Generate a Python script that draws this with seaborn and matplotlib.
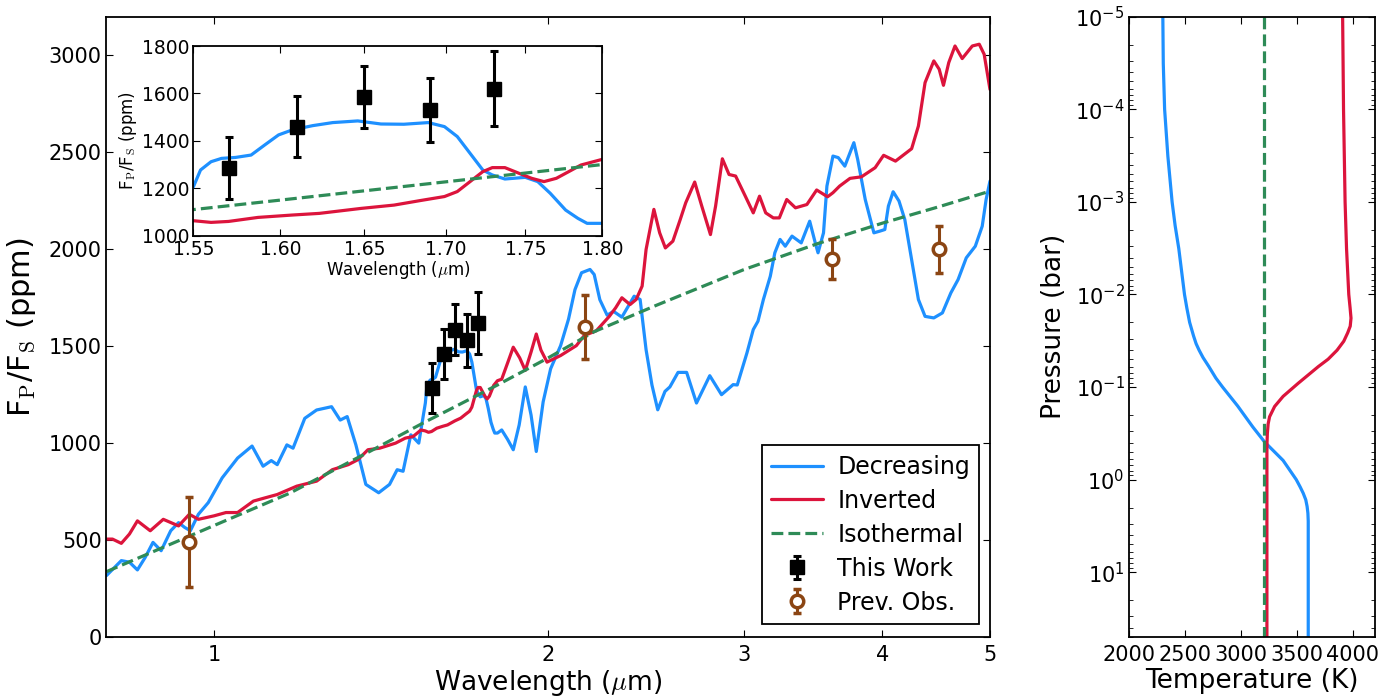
import numpy as np
import pandas as pd
import matplotlib
matplotlib.use("Agg")
import matplotlib.pyplot as plt
import seaborn as sns
from matplotlib.ticker import FixedLocator, NullLocator, FormatStrFormatter, MultipleLocator

# ---------------- data ----------------
dec_wl = [0.800, 0.825, 0.839, 0.853, 0.867, 0.881, 0.896, 0.914, 0.929, 0.941, 0.952, 0.968, 0.988,
          1.017, 1.050, 1.082, 1.107, 1.126, 1.140, 1.163, 1.178, 1.207, 1.237, 1.276, 1.299, 1.318,
          1.342, 1.370, 1.407, 1.439, 1.462, 1.480, 1.504, 1.529,
          1.550, 1.554, 1.560, 1.566, 1.574, 1.583, 1.591, 1.599, 1.607, 1.619, 1.631, 1.646, 1.660,
          1.674, 1.689, 1.699, 1.707, 1.715, 1.723, 1.729, 1.737, 1.750, 1.758, 1.766, 1.776, 1.784,
          1.790, 1.800, 1.816, 1.838, 1.860, 1.883, 1.907, 1.930, 1.951, 1.979, 2.010, 2.052, 2.086,
          2.114, 2.143, 2.181, 2.200, 2.226, 2.260, 2.290, 2.330, 2.390, 2.420, 2.450, 2.480, 2.510,
          2.548, 2.574, 2.618, 2.665, 2.720, 2.796, 2.865, 2.935, 2.960, 3.020, 3.060, 3.090, 3.125,
          3.170, 3.200, 3.235, 3.270, 3.316, 3.380, 3.440, 3.480, 3.500, 3.540, 3.565, 3.610, 3.650,
          3.700, 3.770, 3.800, 3.860, 3.930, 3.980, 4.020, 4.050, 4.090, 4.140, 4.190, 4.250, 4.310,
          4.370, 4.450, 4.530, 4.610, 4.680, 4.760, 4.850, 4.920, 4.960, 5.000]
dec_fp = [317, 394, 386, 346, 411, 488, 445, 548, 590, 565, 548, 633, 693,
          821, 923, 985, 881, 910, 889, 991, 974, 1128, 1171, 1188, 1119, 1137,
          991, 787, 744, 787, 863, 855, 1043, 1000,
          1207, 1277, 1312, 1326, 1330, 1340, 1383, 1425, 1446, 1464, 1477, 1484, 1471,
          1470, 1477, 1460, 1418, 1347, 1277, 1256, 1239, 1246, 1228, 1179, 1108, 1073,
          1052, 1052, 1068, 1020, 966, 1094, 1290, 1145, 957, 1213, 1384, 1503, 1640,
          1792, 1879, 1896, 1870, 1740, 1660, 1680, 1650, 1758, 1741, 1482, 1300, 1172,
          1267, 1290, 1365, 1365, 1207, 1348, 1250, 1302, 1300, 1465, 1586, 1629, 1741,
          1861, 1982, 2051, 2016, 2068, 2033, 2145, 2033, 1982, 2085, 2326, 2481, 2473,
          2429, 2550, 2464, 2257, 2085, 2094, 2102, 2223, 2297, 2249, 2154, 1947, 1741,
          1654, 1646, 1672, 1775, 1844, 1956, 2016, 2119, 2257, 2352]

inv_wl = [0.800, 0.810, 0.825, 0.839, 0.853, 0.876, 0.900, 0.929, 0.950, 0.968, 1.000, 1.025, 1.050,
          1.085, 1.112, 1.140, 1.187, 1.237, 1.278, 1.321, 1.348, 1.376, 1.410, 1.457, 1.487, 1.511,
          1.536, 1.550, 1.560, 1.570, 1.587, 1.607, 1.623, 1.648, 1.668, 1.684, 1.699, 1.707, 1.715,
          1.723, 1.729, 1.737, 1.746, 1.754, 1.762, 1.770, 1.778, 1.786, 1.800, 1.816, 1.840, 1.860,
          1.885, 1.907, 1.930, 1.951, 1.970, 1.995, 2.052, 2.120, 2.155, 2.210, 2.270, 2.300, 2.330,
          2.370, 2.400, 2.430, 2.450, 2.490, 2.520, 2.550, 2.590, 2.630, 2.660, 2.710, 2.750, 2.800,
          2.830, 2.870, 2.910, 2.950, 3.010, 3.060, 3.100, 3.140, 3.190, 3.230, 3.280, 3.340, 3.420,
          3.490, 3.570, 3.610, 3.660, 3.740, 3.830, 3.940, 4.010, 4.110, 4.250, 4.310, 4.370, 4.450,
          4.500, 4.540, 4.590, 4.650, 4.720, 4.820, 4.890, 4.940, 5.000]
inv_fp = [505, 505, 483, 531, 599, 548, 607, 573, 633, 607, 625, 642, 642,
          701, 718, 735, 778, 804, 863, 889, 915, 966, 974, 1000, 1026, 1034,
          1068, 1063, 1056, 1060, 1077, 1087, 1094, 1115, 1129, 1148, 1165, 1186, 1228,
          1270, 1287, 1287, 1263, 1242, 1228, 1242, 1270, 1298, 1322, 1330, 1420, 1495,
          1440, 1375, 1470, 1563, 1480, 1418, 1452, 1503, 1555, 1580, 1654, 1698, 1750,
          1715, 1741, 1810, 1999, 2206, 2085, 2007, 2042, 2154, 2240, 2347, 2223, 2076,
          2223, 2467, 2386, 2378, 2274, 2188, 2274, 2188, 2162, 2162, 2257, 2214, 2231,
          2306, 2271, 2292, 2326, 2366, 2374, 2421, 2485, 2455, 2519, 2636, 2860, 2972,
          2929, 2846, 2963, 3049, 2984, 3049, 3058, 3006, 2825]

iso_wl = [0.80, 1.00, 1.17, 1.40, 1.55, 1.60, 1.80, 2.00, 2.20, 2.50, 3.00, 3.50, 4.00, 4.50, 5.00]
iso_fp = [337, 575, 742, 975, 1110, 1150, 1300, 1440, 1575, 1710, 1895, 2030, 2135, 2220, 2300]

tw_wl = [1.57, 1.61, 1.65, 1.69, 1.73]
tw_fp = [1285, 1460, 1585, 1530, 1620]
tw_err = [130, 130, 132, 137, 158]

prev_wl = [0.95, 2.16, 3.60, 4.50]
prev_fp = [490, 1600, 1950, 2000]
prev_err = [232, 165, 105, 120]

# P-T profiles (pressure in bar, temperature in K)
dec_P = [1e-5, 3.2e-5, 1e-4, 3.2e-4, 1e-3, 1.8e-3, 3.2e-3, 5.6e-3, 1e-2, 1.4e-2, 2e-2, 2.8e-2,
         3.4e-2, 4e-2, 4.8e-2, 6e-2, 8e-2, 0.1, 0.16, 0.27, 0.39, 0.62, 0.8, 1.0, 1.2, 1.4, 1.65,
         1.95, 2.3, 2.8, 50]
dec_T = [2300, 2304, 2316, 2345, 2383, 2410, 2443, 2468, 2494, 2515, 2540, 2575,
         2598, 2625, 2660, 2712, 2775, 2835, 2970, 3106, 3210, 3377, 3440, 3495, 3530, 3557, 3580,
         3592, 3599, 3602, 3602]
inv_P = [1e-5, 1e-4, 1e-3, 3.2e-3, 1e-2, 1.4e-2, 1.8e-2, 2.2e-2, 2.6e-2, 3.2e-2, 4e-2, 5e-2,
         6e-2, 0.091, 0.126, 0.162, 0.209, 0.25, 0.316, 0.4, 0.5, 50]
inv_T = [3910, 3918, 3932, 3945, 3965, 3977, 3985, 3978, 3955, 3920, 3860, 3780,
         3693, 3512, 3377, 3301, 3256, 3243, 3236, 3233, 3232, 3232]
iso_P = [1e-5, 50]
iso_T = [3210, 3210]

# ---------------- style ----------------
sns.set_style("ticks")
plt.rcParams.update({
    "font.family": ["DejaVu Sans"],
    "mathtext.fontset": "cm",
    "text.color": "black",
    "axes.labelcolor": "black",
    "xtick.color": "black",
    "ytick.color": "black",
    "xtick.direction": "in",
    "ytick.direction": "in",
    "xtick.top": True,
    "ytick.right": True,
    "xtick.major.size": 5,
    "ytick.major.size": 5,
    "xtick.minor.size": 3,
    "ytick.minor.size": 3,
    "axes.linewidth": 1.3,
    "axes.edgecolor": "black",
})

C_DEC = "#1E90FF"
C_INV = "#DC143C"
C_ISO = "#2E8B57"
C_PREV = "#8B4513"
LW = 2.3

fig = plt.figure(figsize=(13.92, 6.96), dpi=100)
ax = fig.add_axes([0.0765, 0.0848, 0.6347, 0.8912])
axin = fig.add_axes([0.139, 0.6614, 0.2937, 0.2725])
axr = fig.add_axes([0.8113, 0.0848, 0.1765, 0.8912])

df_dec = pd.DataFrame({"wl": dec_wl, "fp": dec_fp})
df_inv = pd.DataFrame({"wl": inv_wl, "fp": inv_fp})
df_iso = pd.DataFrame({"wl": iso_wl, "fp": iso_fp})


def spectra(a, with_label):
    a.set_xscale("log")
    sns.lineplot(data=df_dec, x="wl", y="fp", ax=a, color=C_DEC, lw=LW, sort=False,
                 estimator=None, label="Decreasing" if with_label else None, legend=False)
    sns.lineplot(data=df_inv, x="wl", y="fp", ax=a, color=C_INV, lw=LW, sort=False,
                 estimator=None, label="Inverted" if with_label else None, legend=False)
    sns.lineplot(data=df_iso, x="wl", y="fp", ax=a, color=C_ISO, lw=LW, ls="--", sort=False,
                 estimator=None, label="Isothermal" if with_label else None, legend=False)
    a.errorbar(tw_wl, tw_fp, yerr=tw_err, fmt="s", color="black", ms=9.5,
               elinewidth=2.2, capsize=2.8, capthick=2.2, label="This Work", zorder=5)
    a.errorbar(prev_wl, prev_fp, yerr=prev_err, fmt="o", color=C_PREV, mfc="white",
               mec=C_PREV, mew=2.5, ms=9, elinewidth=2.2, capsize=2.8, capthick=2.2,
               label="Prev. Obs.", zorder=5)


# ---- main panel ----
spectra(ax, True)
ax.set_xlim(0.8, 5.0)
ax.set_ylim(0, 3200)
ax.xaxis.set_major_locator(FixedLocator([1, 2, 3, 4, 5]))
ax.xaxis.set_major_formatter(FormatStrFormatter("%d"))
ax.xaxis.set_minor_locator(NullLocator())
ax.yaxis.set_major_locator(MultipleLocator(500))
ax.tick_params(labelsize=15)
ax.tick_params(axis="x", pad=6)
ax.set_xlabel(r"Wavelength ($\mu$m)", fontsize=19, labelpad=2)
ax.set_ylabel(r"F$_{\rm P}$/F$_{\rm S}$ (ppm)", fontsize=22, labelpad=8)
h, l = ax.get_legend_handles_labels()
order = ["Decreasing", "Inverted", "Isothermal", "This Work", "Prev. Obs."]
hd = dict(zip(l, h))
leg = ax.legend([hd[k] for k in order], order, loc="lower right", bbox_to_anchor=(0.988, 0.021),
                borderaxespad=0, fontsize=17, frameon=True, fancybox=False, edgecolor="black",
                framealpha=1, labelspacing=0.42, handlelength=2.2, handletextpad=0.6,
                borderpad=0.4)
leg.get_frame().set_linewidth(1.3)

# ---- inset ----
spectra(axin, False)
axin.set_xlim(1.55, 1.80)
axin.set_ylim(1000, 1800)
axin.xaxis.set_major_locator(FixedLocator([1.55, 1.60, 1.65, 1.70, 1.75, 1.80]))
axin.xaxis.set_major_formatter(FormatStrFormatter("%.2f"))
axin.xaxis.set_minor_locator(NullLocator())
axin.yaxis.set_major_locator(MultipleLocator(200))
axin.tick_params(labelsize=13.5, pad=3)
axin.set_xlabel(r"Wavelength ($\mu$m)", fontsize=12, labelpad=0)
axin.set_ylabel(r"F$_{\rm P}$/F$_{\rm S}$ (ppm)", fontsize=12, labelpad=2)

# ---- P-T panel ----
axr.set_yscale("log")
sns.lineplot(x=dec_T, y=dec_P, ax=axr, color=C_DEC, lw=LW, sort=False, estimator=None)
sns.lineplot(x=inv_T, y=inv_P, ax=axr, color=C_INV, lw=LW, sort=False, estimator=None)
sns.lineplot(x=iso_T, y=iso_P, ax=axr, color=C_ISO, lw=LW, ls="--", sort=False, estimator=None)
axr.set_xlim(2000, 4200)
axr.set_ylim(50, 1e-5)
axr.xaxis.set_major_locator(FixedLocator([2000, 2500, 3000, 3500, 4000]))
axr.tick_params(labelsize=15)
axr.tick_params(axis="x", pad=6)
axr.set_xlabel("Temperature (K)", fontsize=19, labelpad=2)
axr.set_ylabel("Pressure (bar)", fontsize=19, labelpad=6)

fig.savefig("out.png", dpi=100)
